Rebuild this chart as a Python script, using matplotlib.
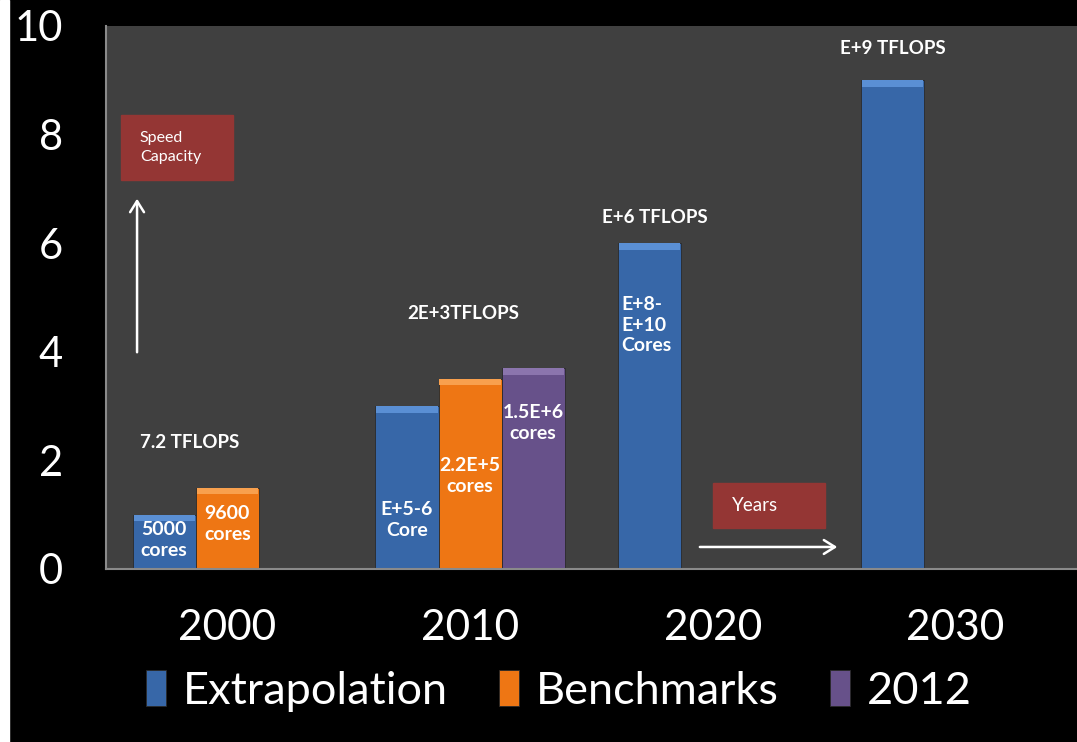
import matplotlib.pyplot as plt
import matplotlib.patches as patches
import numpy as np

plt.rcParams["font.family"] = ["Lato", "DejaVu Sans"]

# Data
years = ["2000", "2010", "2020", "2030"]
extrapolation = [1.0, 3.0, 6.0, 9.0]
benchmarks = [1.5, 3.5, 0, 0]
recent_2012 = [0, 3.7, 0, 0]
series_names = ["Extrapolation", "Benchmarks", "2012"]
y_ticks = [0, 2, 4, 6, 8, 10]

BG = "#000000"
PLOT_BG = "#404040"
BLUE, BLUE_CAP = "#3767a8", "#5a8fd4"
ORANGE, ORANGE_CAP = "#ee7614", "#f8a04e"
PURPLE, PURPLE_CAP = "#67518a", "#8b75ad"
BOX_RED = "#943634"

fig = plt.figure(figsize=(10.77, 7.42), dpi=100)
fig.set_facecolor(BG)
ax = fig.add_axes([0.0984, 0.2332, 0.9016, 0.7318])
ax.set_facecolor(PLOT_BG)

# thin white strip on the far left of the original picture
fig.patches.append(patches.Rectangle((0, 0), 9 / 1077, 1, transform=fig.transFigure,
                                     color="white", zorder=0))

x = np.arange(len(years))
w = 0.26
cap = 0.12

def bevel_bars(offset, values, color, cap_color, label):
    vals = np.array(values, dtype=float)
    mask = vals > 0
    bars = ax.bar(x[mask] + offset, vals[mask], w, color=color, edgecolor="#2a2a2a",
                  linewidth=0.6, label=label, zorder=2)
    # lighter top edge for the bevel look
    ax.bar(x[mask] + offset, np.full(mask.sum(), cap), w * 0.97, bottom=vals[mask] - cap,
           color=cap_color, linewidth=0, zorder=3)
    return bars

bevel_bars(-w, extrapolation, BLUE, BLUE_CAP, series_names[0])
bevel_bars(0, benchmarks, ORANGE, ORANGE_CAP, series_names[1])
bevel_bars(w, recent_2012, PURPLE, PURPLE_CAP, series_names[2])

ax.set_xlim(-0.5, 3.5)
ax.set_ylim(0, 10)
ax.set_xticks(x)
ax.set_xticklabels(years)
ax.set_yticks(y_ticks)
ax.tick_params(axis="x", length=0, pad=29, labelsize=30.5, labelcolor="white")
ax.tick_params(axis="y", length=0, pad=31, labelsize=30, labelcolor="white")
for s in ["top", "right"]:
    ax.spines[s].set_visible(False)
for s in ["left", "bottom"]:
    ax.spines[s].set_color("#8a8a8a")
    ax.spines[s].set_linewidth(1.5)

# TFLOPS annotations above groups
bold = dict(color="white", fontweight="bold", ha="center", va="center", fontsize=13.5, zorder=5)
ax.text(-0.154, 2.32, "7.2 TFLOPS", **bold)
ax.text(0.971, 4.70, "2E+3TFLOPS", **bold)
ax.text(1.762, 6.48, "E+6 TFLOPS", **bold)
ax.text(2.742, 9.59, "E+9 TFLOPS", **bold)

# core counts inside bars
inner = dict(color="white", fontweight="bold", ha="center", va="center", fontsize=14,
             linespacing=1.25, zorder=5)
ax.text(-w, 0.53, "5000\ncores", **inner)
ax.text(0, 0.83, "9600\ncores", **inner)
ax.text(1 - w, 0.90, "E+5-6\nCore", **inner)
ax.text(1, 1.71, "2.2E+5\ncores", **inner)
ax.text(1 + w, 2.69, "1.5E+6\ncores", **inner)
ax.text(1.622, 4.49, "E+8-\nE+10\nCores", color="white", fontweight="bold", ha="left",
        va="center", fontsize=14, linespacing=1.25, zorder=5)

# red boxes with labels
ax.add_patch(patches.Rectangle((-0.438, 7.16), 0.461, 1.20, color=BOX_RED, zorder=4))
ax.text(-0.36, 7.76, "Speed\nCapacity", color="white", fontsize=11.5, ha="left", va="center",
        linespacing=1.4, zorder=5)
ax.add_patch(patches.Rectangle((2.0, 0.755), 0.462, 0.825, color=BOX_RED, zorder=4))
ax.text(2.08, 1.17, "Years", color="white", fontsize=13.5, ha="left", va="center", zorder=5)

# arrows
arrow = dict(arrowstyle="->,head_length=0.8,head_width=0.5", color="white", lw=1.8)
ax.annotate("", xy=(-0.372, 6.87), xytext=(-0.372, 3.94), arrowprops=arrow, zorder=5)
ax.annotate("", xy=(2.524, 0.405), xytext=(1.935, 0.405), arrowprops=arrow, zorder=5)

leg = fig.legend(loc="center", bbox_to_anchor=(559 / 1077, 1 - 691 / 742), ncol=3,
                 frameon=False, fontsize=32.5, handlelength=0.45, handleheight=0.85,
                 handletextpad=0.38, columnspacing=1.12, labelcolor="white")

fig.savefig("out.png", dpi=100, facecolor=BG)
